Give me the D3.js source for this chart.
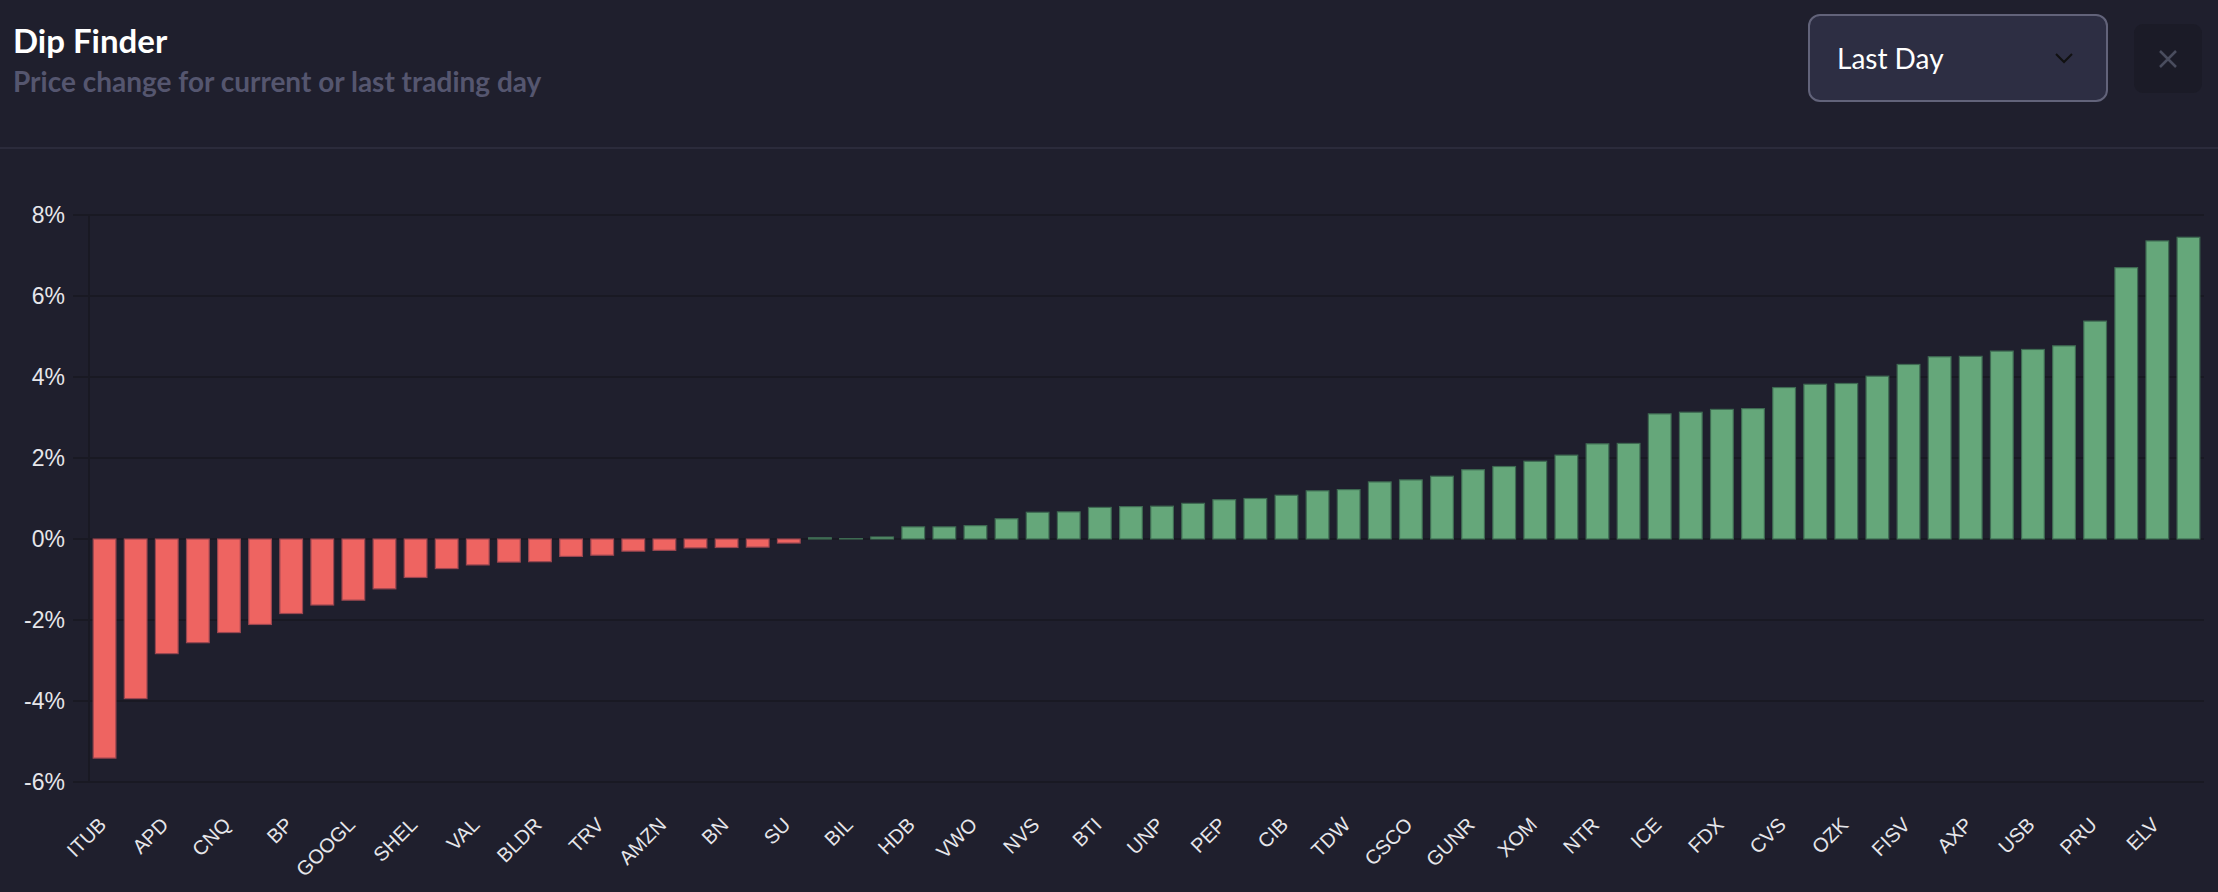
<!DOCTYPE html>
<html>
<head>
<meta charset="utf-8">
<script src="https://cdn.jsdelivr.net/npm/d3@7/dist/d3.min.js"></script>
<style>
  body { margin: 0; background: #1f1f2d; }
  svg { display: block; }
</style>
</head>
<body>
<div id="chart"></div>
<script>
// visible tick labels (the chart only shows every other ticker)
var tickLabels = ["ITUB", "APD", "CNQ", "BP", "GOOGL", "SHEL", "VAL", "BLDR", "TRV", "AMZN",
  "BN", "SU", "BIL", "HDB", "VWO", "NVS", "BTI", "UNP", "PEP", "CIB", "TDW", "CSCO",
  "GUNR", "XOM", "NTR", "ICE", "FDX", "CVS", "OZK", "FISV", "AXP", "USB", "PRU", "ELV"];

// daily price change in %, sorted
var changes = [-5.41, -3.94, -2.83, -2.56, -2.31, -2.11, -1.84, -1.63, -1.51, -1.23,
  -0.95, -0.73, -0.64, -0.57, -0.56, -0.43, -0.40, -0.30, -0.28, -0.22,
  -0.21, -0.20, -0.10, 0.03, 0.01, 0.05, 0.30, 0.30, 0.33, 0.50,
  0.66, 0.67, 0.78, 0.80, 0.81, 0.88, 0.97, 1.00, 1.08, 1.19,
  1.22, 1.41, 1.46, 1.55, 1.71, 1.79, 1.92, 2.07, 2.35, 2.36,
  3.09, 3.13, 3.20, 3.22, 3.74, 3.82, 3.84, 4.02, 4.31, 4.50,
  4.51, 4.64, 4.68, 4.77, 5.38, 6.70, 7.36, 7.45];

var yTicks = [-6, -4, -2, 0, 2, 4, 6, 8];
var periodOptions = ["Last Day"];

var W = 2218, H = 892;
var margin = {top: 215, right: 14, bottom: 110, left: 89};

var svg = d3.select("#chart").append("svg")
    .attr("width", W)
    .attr("height", H);

svg.append("rect").attr("width", W).attr("height", H).attr("fill", "#1f1f2d");

// header
svg.append("text")
    .attr("x", 13).attr("y", 53)
    .attr("fill", "#ffffff")
    .style("font-family", "Lato")
    .style("font-weight", 700)
    .style("font-size", "33px")
    .text("Dip Finder");

svg.append("text")
    .attr("x", 13).attr("y", 92)
    .attr("fill", "#55566f")
    .style("font-family", "Lato")
    .style("font-weight", 700)
    .style("font-size", "28px")
    .text("Price change for current or last trading day");

// dropdown
var dd = svg.append("g").attr("transform", "translate(1809,15)");
dd.append("rect")
    .attr("width", 298).attr("height", 86).attr("rx", 11)
    .attr("fill", "#2d2e43")
    .attr("stroke", "#62637a")
    .attr("stroke-width", 2);
dd.append("text")
    .attr("x", 28).attr("y", 54)
    .attr("fill", "#ffffff")
    .style("font-family", "Lato")
    .style("font-size", "28px")
    .text(periodOptions[0]);
dd.append("path")
    .attr("d", "M247,39 L255,47 L263,39")
    .attr("fill", "none")
    .attr("stroke", "#111")
    .attr("stroke-width", 2);

// close button
var cb = svg.append("g").attr("transform", "translate(2134,24)");
cb.append("rect")
    .attr("width", 68).attr("height", 69).attr("rx", 9)
    .attr("fill", "#1b1b27");
cb.append("path")
    .attr("d", "M26,27 L42,43 M42,27 L26,43")
    .attr("stroke", "#4a4d5e")
    .attr("stroke-width", 2.5);

// separator
svg.append("line")
    .attr("x1", 0).attr("x2", W)
    .attr("y1", 148).attr("y2", 148)
    .attr("stroke", "#2b2b3b")
    .attr("stroke-width", 2);

var plotW = W - margin.left - margin.right;
var plotH = H - margin.top - margin.bottom;

var x = d3.scaleBand()
    .domain(d3.range(changes.length))
    .range([0, plotW])
    .paddingInner(0.27)
    .paddingOuter(0.135);

var y = d3.scaleLinear()
    .domain([-6, 8])
    .range([plotH, 0]);

var g = svg.append("g").attr("transform", "translate(" + margin.left + "," + margin.top + ")");

// grid lines
g.selectAll("line.grid")
    .data(yTicks)
    .enter().append("line")
    .attr("class", "grid")
    .attr("x1", -16).attr("x2", plotW)
    .attr("y1", function (d) { return y(d); })
    .attr("y2", function (d) { return y(d); })
    .attr("stroke", "#191923")
    .attr("stroke-width", 2);

g.append("line")
    .attr("x1", 0).attr("x2", 0)
    .attr("y1", 0).attr("y2", plotH)
    .attr("stroke", "#191923")
    .attr("stroke-width", 2);

// y axis labels
var yAxis = g.append("g")
    .call(d3.axisLeft(y).tickValues(yTicks).tickSize(0).tickPadding(24)
      .tickFormat(function (d) { return d + "%"; }));
yAxis.select(".domain").remove();
yAxis.selectAll("text")
    .attr("fill", "#e6e6ea")
    .style("font-family", "Liberation Sans, Arial, sans-serif")
    .style("font-size", "23px");

// bars
g.selectAll("rect.bar")
    .data(changes)
    .enter().append("rect")
    .attr("class", "bar")
    .attr("x", function (d, i) { return x(i); })
    .attr("width", x.bandwidth())
    .attr("y", function (d) { return y(Math.max(0, d)); })
    .attr("height", function (d) { return Math.abs(y(d) - y(0)); })
    .attr("fill", function (d) { return d < 0 ? "#ee6461" : "#65a77a"; })
    .attr("stroke", function (d) { return d < 0 ? "#9a4650" : "#3e6a52"; })
    .attr("stroke-width", 1.2);

// x axis labels, every other bar
var xAxis = g.append("g")
    .attr("transform", "translate(0," + plotH + ")")
    .call(d3.axisBottom(x)
      .tickValues(d3.range(0, changes.length, 2))
      .tickSize(0)
      .tickFormat(function (i) { return tickLabels[i / 2]; }));
xAxis.select(".domain").remove();
xAxis.selectAll("text")
    .attr("fill", "#e6e6ea")
    .style("font-family", "Liberation Sans, Arial, sans-serif")
    .style("font-size", "20px")
    .attr("text-anchor", "end")
    .attr("dy", 0)
    .attr("y", 0)
    .attr("transform", "translate(3,44) rotate(-45)");
</script>
</body>
</html>
